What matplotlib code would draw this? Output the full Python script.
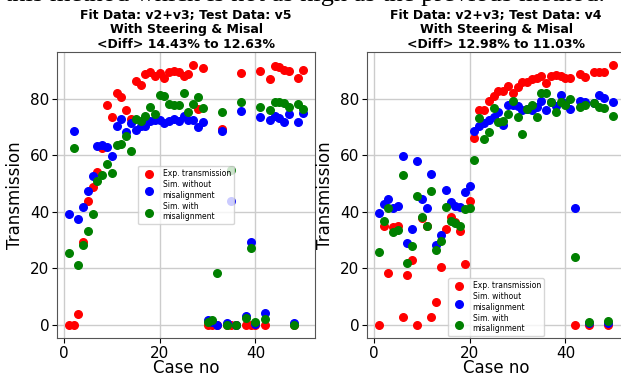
import matplotlib
matplotlib.use("Agg")
import matplotlib.pyplot as plt

cases = [1, 2, 3, 4, 5, 6, 7, 8, 9, 10, 11, 12, 13, 14, 15, 16, 17, 18, 19, 20,
         21, 22, 23, 24, 25, 26, 27, 28, 29, 30, 31, 32, 33, 34, 35, 36, 37, 38, 39, 40,
         41, 42, 43, 44, 45, 46, 47, 48, 49, 50]

# test data v5 (left)
exp_v5 = [0, 0, 4, 29.4, 44, 49, 54, 62.5, 78, 73.7, 82, 80.5, 76, 73, 86.5, 85, 88.7, 89.5, 88, 89,
          87.4, 89.5, 90, 89.5, 88, 88.8, 92, 76.4, 91, 0, 0, 0, 69.3, 0, 0, 0, 89.3, 0, 0, 0,
          90, 0, 87, 91.7, 91.4, 90.4, 89.8, 0, 87.5, 90.2]
sim_wo_v5 = [39.3, 68.7, 37.5, 41.8, 47.3, 52.8, 63.3, 63.6, 63, 59.8, 70.5, 72.9, 68.3, 71.4, 69, 70.5, 70.5, 72.3, 72.6, 72.7,
             71.4, 72.3, 72.9, 72.3, 74, 72.6, 72.6, 69.9, 71.7, 1.8, 1.0, 0, 68.7, 0.6, 43.7, 0, 75.8, 3.2, 29.4, 0.5,
             73.6, 4.4, 72.7, 74, 73.2, 71.9, 74.5, 0.6, 71.7, 75]
sim_w_v5 = [25.6, 62.7, 21.4, 28.4, 33.2, 39.2, 50.8, 52.9, 56.8, 53.8, 63.8, 64.2, 66.7, 61.5, 72.9, 72.3, 73.8, 77, 74.6, 81.4,
            81, 78.2, 78, 78, 82, 75.2, 78.2, 80.6, 76.7, 1.0, 1.8, 18.5, 75.2, 0, 54.8, 0, 78.8, 2.4, 27.4, 1.2,
            77, 2.1, 76.2, 78.8, 78.8, 78.6, 77.1, 0, 78.2, 76.4]

# test data v4 (right)
exp_v4 = [0, 35, 18.4, 34.8, 35, 3, 17.5, 22.8, 0, 37.7, 35, 3, 8.3, 20.4, 34, 38.2, 36.4, 33.2, 21.7, 43.7,
          66, 75.9, 75.9, 79.3, 81, 82.6, 82.6, 84.6, 82, 84.2, 86, 86, 86.8, 87.4, 88.1, 85.6, 88.1, 88.3, 87.9, 87.2,
          87.2, 0, 88.6, 87.8, 0, 89.4, 89.4, 89.4, 0, 91.9]
sim_wo_v4 = [39.7, 42.7, 44.7, 41.5, 42.1, 59.7, 29.1, 34, 58, 44.5, 41.2, 53.4, 28.4, 31.9, 47.7, 43.3, 42.1, 41.6, 47.1, 49.2,
             68.4, 70.4, 71.5, 72.4, 73.5, 75.3, 70.6, 77.7, 77.7, 77.5, 75.9, 76.2, 75.9, 77, 79.1, 75.9, 78.9, 77.5, 81.2, 78.3,
             76.5, 41.3, 79.1, 78.9, 0.8, 78.5, 81.2, 80.3, 0.8, 78.9]
sim_w_v4 = [25.9, 36.8, 41.4, 33, 33.5, 53, 22, 27.9, 45.7, 38.3, 35, 47.2, 26.4, 29.7, 41.6, 36.8, 36, 35, 40.9, 41.2,
            58.3, 73.2, 65.6, 68.2, 76.8, 71.8, 72.2, 74.7, 79.1, 73.5, 67.4, 76.2, 77.7, 73.5, 82.1, 82.1, 78.9, 75.3, 78.9, 77.7,
            80, 24.1, 77.1, 77.7, 1.2, 78.3, 77.1, 76.8, 1.4, 73.8]

titles = ["Fit Data: v2+v3; Test Data: v5\nWith Steering & Misal\n<Diff> 14.43% to 12.63%",
          "Fit Data: v2+v3; Test Data: v4\nWith Steering & Misal\n<Diff> 12.98% to 11.03%"]

fig = plt.figure(figsize=(6.21, 3.79), dpi=100)
# line of document text cut off at the top of the screenshot
fig.text(0.008, 0.9975, "this method which is not as high as the previous method.",
         family="Liberation Serif", fontsize=19, va="baseline", ha="left")

ax1 = fig.add_axes([57 / 621, 41 / 379, 258 / 621, 286 / 379])
ax2 = fig.add_axes([367 / 621, 41 / 379, 258 / 621, 286 / 379])

panels = [(ax1, exp_v5, sim_wo_v5, sim_w_v5, "center"),
          (ax2, exp_v4, sim_wo_v4, sim_w_v4, "lower center")]

for i, (ax, e, s1, s2, loc) in enumerate(panels):
    ax.scatter(cases, e, c="red", s=30, label="Exp. transmission", zorder=3)
    ax.scatter(cases, s1, c="blue", s=30, label="Sim. without\nmisalignment", zorder=3)
    ax.scatter(cases, s2, c="green", s=30, label="Sim. with\nmisalignment", zorder=3)
    ax.grid(True, color="#cccccc", linewidth=1)
    ax.set_axisbelow(True)
    ax.set_xticks([0, 20, 40])
    ax.set_yticks([0, 20, 40, 60, 80])
    ax.tick_params(labelsize=11, pad=2)
    ax.set_xlabel("Case no", fontsize=12, labelpad=-1)
    ax.set_ylabel("Transmission", fontsize=12)
    ax.set_title(titles[i], fontsize=9, fontweight="bold", pad=3, linespacing=1.15)
    for sp in ax.spines.values():
        sp.set_color("#555555")
    ax.legend(loc=loc, fontsize=5.5, frameon=True, labelspacing=0.3,
              borderaxespad=0.2 if loc == "lower center" else 0.5)

plt.savefig("out.png", dpi=100)
